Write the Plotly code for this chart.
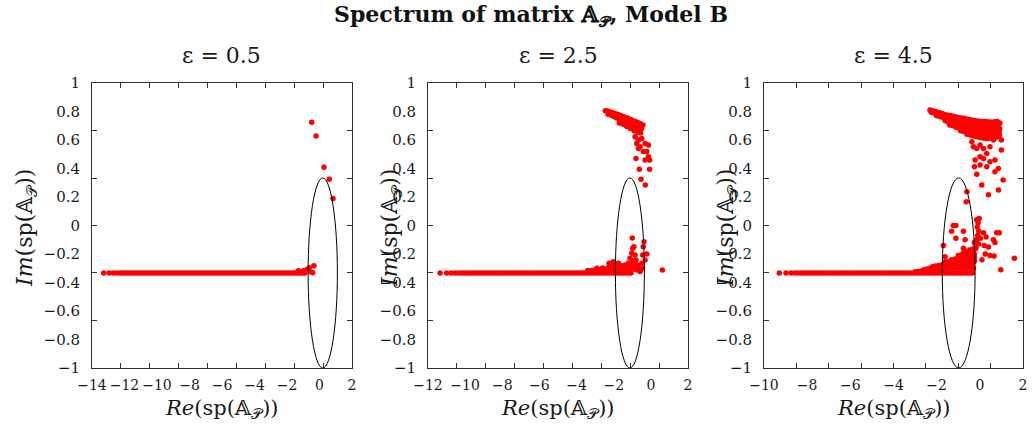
import plotly.graph_objects as go

# ---------------- data ----------------
eps_labels = ["ε = 0.5", "ε = 2.5", "ε = 4.5"]
x_ranges = [[-14, 2], [-12, 2], [-10, 2]]
x_tick_labels = [
    [-14, -12, -10, -8, -6, -4, -2, 0, 2],
    [-12, -10, -8, -6, -4, -2, 0, 2],
    [-10, -8, -6, -4, -2, 0, 2],
]
x_tick_marks = [
    [-12.222, -10.444, -8.667, -6.889, -5.111, -3.333, -1.556, 0.222],
    [-10.444, -8.889, -7.333, -5.778, -4.222, -2.667, -1.111, 0.444],
    [-8.5, -7.0, -5.5, -4.0, -2.5, -1.0, 0.5],
]
y_tick_labels = [-1, -0.8, -0.6, -0.4, -0.2, 0, 0.2, 0.4, 0.6, 0.8, 1]
y_tick_marks = [-0.667, -0.333, 0, 0.333, 0.667]

# ellipse (center re, center im, semi-axis re, semi-axis im)
ell_1 = [0.2, -0.333, 0.9, 0.667]
ell_2 = [-1.13, -0.333, 0.78, 0.667]
ell_3 = [-0.98, -0.333, 0.76, 0.667]

row_im = -0.333

# ---- eps = 0.5 ----
row_re_1 = [-13.28, -12.95, -12.7, -12.48, -12.28, -12.1, -11.93, -11.78, -11.63, -11.48,
            -11.33, -11.18, -11.03, -10.88, -10.73, -10.58, -10.43, -10.28, -10.13, -9.98,
            -9.83, -9.68, -9.53, -9.38, -9.23, -9.08, -8.93, -8.78, -8.63, -8.48, -8.33,
            -8.18, -8.03, -7.88, -7.73, -7.58, -7.43, -7.28, -7.13, -6.98, -6.83, -6.68,
            -6.53, -6.38, -6.23, -6.08, -5.93, -5.78, -5.63, -5.48, -5.33, -5.18, -5.03,
            -4.88, -4.73, -4.58, -4.43, -4.28, -4.13, -3.98, -3.83, -3.68, -3.53, -3.38,
            -3.23, -3.08, -2.93, -2.78, -2.63, -2.48, -2.33, -2.18, -2.03, -1.88, -1.73,
            -1.58, -1.43, -1.28, -1.13, -0.98, -0.9]
pts_re_1 = [-1.3, -0.99, -0.8, -0.63, -0.34, -0.42, -0.55, -0.48, -0.21, 0.28, 0.6, 0.83]
pts_im_1 = [-0.318, -0.317, -0.31, -0.296, -0.282, -0.331, -0.325, 0.724, 0.628, 0.408, 0.324, 0.19]

# ---- eps = 2.5 ----
row_re_2 = [-11.35, -11.0, -10.75, -10.55, -10.38, -10.22, -10.07, -9.92, -9.77, -9.62,
            -9.47, -9.32, -9.17, -9.02, -8.87, -8.72, -8.57, -8.42, -8.27, -8.12, -7.97,
            -7.82, -7.67, -7.52, -7.37, -7.22, -7.07, -6.92, -6.77, -6.62, -6.47, -6.32,
            -6.17, -6.02, -5.87, -5.72, -5.57, -5.42, -5.27, -5.12, -4.97, -4.82, -4.67,
            -4.52, -4.37, -4.22, -4.07, -3.92, -3.77, -3.62, -3.47, -3.32, -3.17, -3.02,
            -2.87, -2.72, -2.57, -2.42, -2.27, -2.12, -1.97, -1.82, -1.67, -1.52, -1.37,
            -1.22, -1.07]
pts_re_2 = [
    # lower cluster
    -3.4, -3.2, -3.0, -2.8, -2.6, -2.4, -2.2, -2.0, -1.8, -1.6, -1.4, -1.2, -1.0, -0.8, -0.6,
    -2.9, -2.6, -2.3, -2.1, -1.9, -1.7, -1.5, -1.3, -1.1, -0.9, -0.7,
    -2.0, -1.8, -1.6, -1.4, -1.2, -1.0, -0.8, -0.6,
    -2.25, -2.02, -1.75, -1.57, -1.39, -1.21, -1.12, -1.03,
    -0.98, -1.0, -0.91, -0.85, -0.8, -0.73, -0.67, -0.58, -0.49, -0.44, -0.41, -0.37,
    -0.22, -0.31, 0.62, -0.95, -0.65, -0.55, -0.45,
    # upper band
    -2.45, -2.33, -2.21, -2.09, -1.97, -1.85, -1.73, -1.61, -1.49, -1.37, -1.25, -1.13,
    -1.01, -0.89, -0.77, -0.65, -0.53, -0.43,
    -2.3, -2.15, -2.0, -1.85, -1.7, -1.55, -1.4, -1.25, -1.1, -0.95, -0.8, -0.65, -0.5,
    -1.7, -1.5, -1.3, -1.1, -0.9, -0.7, -0.55,
    # scattered below the band
    -0.85, -0.67, -0.76, -0.49, -0.58, -0.31, -0.13, -0.4, -0.22, -0.13,
    -0.31, -0.07, -0.8, -0.62, -0.07, -0.53, -0.3, -0.67,
]
pts_im_2 = [
    -0.315, -0.315, -0.312, -0.31, -0.31, -0.308, -0.306, -0.305, -0.305, -0.305, -0.305,
    -0.305, -0.305, -0.31, -0.315,
    -0.3, -0.298, -0.296, -0.295, -0.294, -0.293, -0.292, -0.292, -0.292, -0.295, -0.3,
    -0.285, -0.283, -0.282, -0.28, -0.28, -0.28, -0.285, -0.29,
    -0.265, -0.254, -0.265, -0.289, -0.277, -0.265, -0.23, -0.195,
    -0.16, -0.088, -0.149, -0.207, -0.242, -0.277, -0.312, -0.323, -0.265, -0.207, -0.149, -0.114,
    -0.2, -0.242, -0.312, -0.25, -0.29, -0.3, -0.3,
    0.805, 0.803, 0.798, 0.793, 0.788, 0.782, 0.777, 0.771, 0.765, 0.758, 0.752, 0.745,
    0.738, 0.732, 0.726, 0.72, 0.713, 0.705,
    0.78, 0.775, 0.765, 0.755, 0.747, 0.74, 0.73, 0.72, 0.71, 0.70, 0.69, 0.685, 0.68,
    0.72, 0.71, 0.695, 0.68, 0.665, 0.655, 0.65,
    0.623, 0.6, 0.576, 0.611, 0.553, 0.576, 0.565, 0.52, 0.52, 0.483,
    0.46, 0.46, 0.47, 0.394, 0.394, 0.324, 0.284, 0.54,
]

# ---- eps = 4.5 ----
row_re_3 = [-9.29, -8.98, -8.75, -8.57, -8.42, -8.28, -8.15, -8.02, -7.89, -7.76, -7.63,
            -7.5, -7.37, -7.24, -7.11, -6.98, -6.85, -6.72, -6.59, -6.46, -6.33, -6.2,
            -6.07, -5.94, -5.81, -5.68, -5.55, -5.42, -5.29, -5.16, -5.03, -4.9, -4.77,
            -4.64, -4.51, -4.38, -4.25, -4.12, -3.99, -3.86, -3.73, -3.6, -3.47, -3.34,
            -3.21, -3.08, -2.95, -2.82, -2.69, -2.56, -2.43, -2.3, -2.17, -2.04, -1.91,
            -1.78, -1.65, -1.52, -1.39, -1.26, -1.13, -1.0, -0.87, -0.74, -0.61, -0.48,
            -0.35]
pts_re_3 = [
    # lower dense region
    -3.0, -2.85, -2.7, -2.55, -2.4, -2.25, -2.1, -1.95, -1.8, -1.65, -1.5, -1.35, -1.2,
    -1.05, -0.9, -0.75, -0.6, -0.45, -0.3,
    -2.6, -2.45, -2.3, -2.15, -2.0, -1.85, -1.7, -1.55, -1.4, -1.25, -1.1, -0.95, -0.8,
    -0.65, -0.5, -0.35,
    -2.2, -2.05, -1.9, -1.75, -1.6, -1.45, -1.3, -1.15, -1.0, -0.85, -0.7, -0.55, -0.4, -0.25,
    -1.6, -1.45, -1.3, -1.15, -1.0, -0.85, -0.7, -0.55, -0.4, -0.25,
    -1.3, -1.15, -1.0, -0.85, -0.7, -0.55, -0.4, -0.25,
    -1.0, -0.85, -0.7, -0.55, -0.4, -0.28, -0.2,
    -0.75, -0.6, -0.45, -0.3, -0.18,
    -0.25, -0.15, -0.1, -0.05, -0.12, -0.08, -0.03, -0.15, -0.06, 0.02,
    # lower scattered
    -1.23, -1.11, -1.31, -1.11, -0.76, -0.68, -0.76, -1.69, -1.61,
    0.17, 0.29, 0.2, 0.4, 0.63, 0.7, 0.78, 0.9, 0.47, 0.66, 1.6, 0.97, 0.1, 0.25,
    # upper band
    -2.31, -2.19, -2.07, -1.95, -1.83, -1.71, -1.59, -1.47, -1.35, -1.23, -1.11, -0.99,
    -0.87, -0.75, -0.63, -0.51, -0.39, -0.27, -0.15, -0.03, 0.09, 0.21, 0.33, 0.45,
    0.57, 0.69, 0.81, 0.93,
    -2.25, -2.13, -2.01, -1.89, -1.77, -1.65, -1.53, -1.41, -1.29, -1.17, -1.05, -0.93,
    -0.81, -0.69, -0.57, -0.45, -0.33, -0.21, -0.09, 0.03, 0.15, 0.27, 0.39, 0.51, 0.63,
    0.75, 0.87,
    -2.0, -1.86, -1.72, -1.58, -1.44, -1.3, -1.16, -1.02, -0.88, -0.74, -0.6, -0.46,
    -0.32, -0.18, -0.04, 0.1, 0.24, 0.38, 0.52, 0.66, 0.8, 0.92,
    -1.6, -1.46, -1.32, -1.18, -1.04, -0.9, -0.76, -0.62, -0.48, -0.34, -0.2, -0.06,
    0.08, 0.22, 0.36, 0.5, 0.64, 0.78, 0.9,
    -1.4, -1.25, -1.1, -0.95, -0.8, -0.65, -0.5, -0.35, -0.2, -0.05, 0.1, 0.25, 0.4,
    0.55, 0.7, 0.85,
    -0.9, -0.75, -0.6, -0.45, -0.3, -0.15, 0.0, 0.15, 0.3, 0.45, 0.6, 0.75, 0.9,
    -0.6, -0.45, -0.3, -0.15, 0.0, 0.15, 0.3, 0.45, 0.6, 0.75, 0.9,
    # upper scattered
    -0.37, -0.3, -0.14, 0.01, 0.17, 0.32, 0.47, 0.63, 0.7, 0.86, 1.0, 1.0,
    -0.22, 0.01, 0.17, 0.47, 0.7, 0.86, 0.01, 0.32, 0.7, 1.08, 0.09, 0.86, 0.4,
    -0.25, -0.14, -0.6, -0.63,
]
pts_im_3 = [
    -0.325, -0.322, -0.32, -0.318, -0.315, -0.312, -0.31, -0.308, -0.305, -0.303, -0.3,
    -0.3, -0.3, -0.3, -0.3, -0.3, -0.3, -0.3, -0.3,
    -0.31, -0.305, -0.3, -0.297, -0.293, -0.29, -0.288, -0.285, -0.283, -0.282, -0.28,
    -0.28, -0.28, -0.278, -0.276, -0.27,
    -0.29, -0.285, -0.28, -0.275, -0.27, -0.268, -0.265, -0.262, -0.26, -0.26, -0.26,
    -0.258, -0.255, -0.25,
    -0.255, -0.252, -0.25, -0.247, -0.245, -0.242, -0.24, -0.235, -0.23, -0.225,
    -0.24, -0.235, -0.23, -0.225, -0.22, -0.215, -0.21, -0.205,
    -0.21, -0.205, -0.2, -0.195, -0.19, -0.185, -0.14,
    -0.19, -0.18, -0.17, -0.165, -0.16,
    -0.12, -0.1, -0.07, -0.04, -0.01, 0.02, 0.05, 0.04, -0.13, -0.09,
    0.0, 0.0, -0.04, -0.09, -0.04, -0.1, -0.16, -0.14, -0.22,
    -0.05, -0.08, -0.14, -0.15, -0.1, -0.12, -0.05, -0.05, -0.21, -0.214, -0.23, -0.31, -0.24, -0.2,
    0.81, 0.805, 0.8, 0.795, 0.79, 0.785, 0.778, 0.774, 0.77, 0.766, 0.762, 0.758,
    0.755, 0.752, 0.748, 0.744, 0.74, 0.737, 0.734, 0.731, 0.73, 0.73, 0.728, 0.726,
    0.724, 0.728, 0.73, 0.72,
    0.795, 0.79, 0.784, 0.778, 0.772, 0.766, 0.76, 0.755, 0.75, 0.746, 0.742, 0.738,
    0.735, 0.731, 0.727, 0.723, 0.719, 0.716, 0.712, 0.71, 0.709, 0.708, 0.706, 0.705,
    0.706, 0.708, 0.705,
    0.77, 0.765, 0.758, 0.752, 0.745, 0.738, 0.732, 0.726, 0.72, 0.715, 0.71, 0.705,
    0.7, 0.695, 0.69, 0.69, 0.688, 0.686, 0.684, 0.686, 0.69, 0.68,
    0.735, 0.727, 0.72, 0.712, 0.705, 0.7, 0.695, 0.69, 0.685, 0.68, 0.675, 0.67,
    0.668, 0.666, 0.665, 0.665, 0.668, 0.67, 0.665,
    0.705, 0.7, 0.69, 0.685, 0.68, 0.672, 0.665, 0.66, 0.655, 0.65, 0.65, 0.648, 0.646,
    0.645, 0.65, 0.65,
    0.665, 0.66, 0.655, 0.65, 0.642, 0.636, 0.632, 0.63, 0.628, 0.628, 0.63, 0.635, 0.64,
    0.64, 0.635, 0.628, 0.622, 0.618, 0.614, 0.61, 0.612, 0.615, 0.62, 0.625,
    0.588, 0.553, 0.54, 0.565, 0.54, 0.506, 0.553, 0.6, 0.646, 0.646, 0.6, 0.53,
    0.46, 0.483, 0.47, 0.448, 0.46, 0.4, 0.425, 0.413, 0.378, 0.32, 0.284, 0.25, 0.215,
    0.413, 0.36, 0.237, 0.166,
]

panels = [
    (row_re_1, pts_re_1, pts_im_1, ell_1),
    (row_re_2, pts_re_2, pts_im_2, ell_2),
    (row_re_3, pts_re_3, pts_im_3, ell_3),
]

# ---------------- layout geometry ----------------
W, H = 1033, 427
x_domains = [[92 / W, 352 / W], [428 / W, 688 / W], [764 / W, 1023 / W]]
y_domain = [(H - 368) / H, (H - 83) / H]
SERIF = "DejaVu Serif"
AX = "#303030"
TXT = "#1a1a1a"

fig = go.Figure()
shapes = []
annotations = []
axis_label = "(sp(𝔸<sub>𝒫</sub>))"

for i, (row_re, pts_re, pts_im, ell) in enumerate(panels):
    sfx = "" if i == 0 else str(i + 1)
    xs = row_re + pts_re
    ys = [row_im] * len(row_re) + pts_im
    fig.add_trace(go.Scatter(
        x=xs, y=ys, mode="markers", xaxis="x" + sfx, yaxis="y" + sfx,
        marker=dict(color="#ff0000", size=5.5, line=dict(width=0)),
        showlegend=False, hoverinfo="skip",
    ))
    cx, cy, a, b = ell
    shapes.append(dict(type="circle", xref="x" + sfx, yref="y" + sfx,
                       x0=cx - a, x1=cx + a, y0=cy - b, y1=cy + b,
                       line=dict(color="black", width=1)))
    common = dict(showgrid=False, zeroline=False, showline=True, linecolor=AX,
                  linewidth=1, mirror="ticks", ticks="", automargin=False, tickangle=0)
    fig.update_layout(**{
        "xaxis" + sfx: dict(domain=x_domains[i], range=x_ranges[i], anchor="y" + sfx,
                            tickmode="array", tickvals=x_tick_labels[i],
                            minor=dict(tickmode="array", tickvals=x_tick_marks[i],
                                       ticks="inside", ticklen=5, tickcolor=AX),
                            tickfont=dict(family=SERIF, size=14, color=TXT),
                            ticklabelstandoff=4, **common),
        "yaxis" + sfx: dict(domain=y_domain, range=[-1, 1], anchor="x" + sfx,
                            tickmode="array", tickvals=y_tick_labels,
                            minor=dict(tickmode="array", tickvals=y_tick_marks,
                                       ticks="inside", ticklen=5, tickcolor=AX),
                            tickfont=dict(family=SERIF, size=15, color=TXT),
                            ticklabelstandoff=8, **common),
    })
    xc = (x_domains[i][0] + x_domains[i][1]) / 2
    annotations.append(dict(text=eps_labels[i], x=xc, y=(H - 55) / H, xref="paper",
                            yref="paper", showarrow=False, xanchor="center",
                            yanchor="middle", font=dict(family=SERIF, size=22, color=TXT)))
    annotations.append(dict(text="<i>Re</i>" + axis_label, x=xc, y=(H - 409) / H,
                            xref="paper", yref="paper", showarrow=False,
                            xanchor="center", yanchor="middle",
                            font=dict(family=SERIF, size=21, color=TXT)))
    ylab_x = [27, 392, 728][i]
    annotations.append(dict(text="<i>Im</i>" + axis_label, x=ylab_x / W, y=(H - 228) / H,
                            xref="paper", yref="paper", showarrow=False, textangle=-90,
                            xanchor="center", yanchor="middle",
                            font=dict(family=SERIF, size=22, color=TXT)))

annotations.append(dict(text="<b>Spectrum of matrix 𝔸<sub>𝒫</sub>, Model B</b>",
                        x=531 / W, y=(H - 16) / H, xref="paper", yref="paper",
                        showarrow=False, xanchor="center", yanchor="middle",
                        font=dict(family=SERIF, size=22, color="#111")))

fig.update_layout(width=W, height=H, margin=dict(l=0, r=0, t=0, b=0),
                  paper_bgcolor="white", plot_bgcolor="white",
                  shapes=shapes, annotations=annotations)

fig.write_html("out.html")
